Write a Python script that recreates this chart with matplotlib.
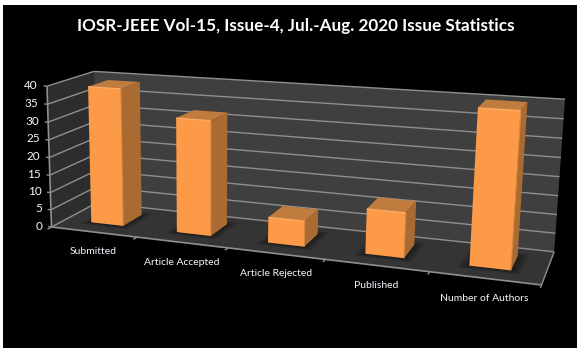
import numpy as np
import matplotlib
matplotlib.use('Agg')
import matplotlib.pyplot as plt
from matplotlib.patches import Rectangle

categorias = ['Submitted', 'Article Accepted', 'Article Rejected', 'Published', 'Number of Authors']
valores = [39, 32, 7, 12, 40]
ticks_y = [0, 5, 10, 15, 20, 25, 30, 35, 40]
titulo = 'IOSR-JEEE Vol-15, Issue-4, Jul.-Aug. 2020 Issue Statistics'

plt.rcParams['font.family'] = ['Lato', 'DejaVu Sans']

# esquinas de la caja 3D (categoria, profundidad, valor) -> pixel de la imagen
esquinas_3d = [(0, 0, 0), (5, 0, 0), (0, 1, 0), (5, 1, 0), (0, 1, 40), (5, 1, 40), (0, 0, 40)]
esquinas_px = [(54.3, 226.7), (541.3, 285.7), (94, 203), (554.7, 251),
               (96.7, 71.7), (564.7, 99.3), (44.3, 85.7)]


def calcular_camara(puntos, pixeles):
    """Matriz de proyeccion 3x4 a partir de correspondencias (DLT)."""
    filas = []
    for (x, y, z), (u, v) in zip(puntos, pixeles):
        filas.append([x, y, z, 1, 0, 0, 0, 0, -u*x, -u*y, -u*z, -u])
        filas.append([0, 0, 0, 0, x, y, z, 1, -v*x, -v*y, -v*z, -v])
    return np.linalg.svd(np.array(filas, dtype=float))[2][-1].reshape(3, 4)


camara = calcular_camara(esquinas_3d, esquinas_px)


def proyectar(x, y, z):
    u, v, w = camara @ np.array([x, y, z, 1.0])
    return u / w, v / w


def cara(ax, puntos, color, zorder=2, alpha=1.0):
    ax.fill(*zip(*[proyectar(*p) for p in puntos]), color=color, lw=0, zorder=zorder, alpha=alpha)


def linea(ax, a, b, color='#8f8f8f', lw=1.0, zorder=1.5):
    p, q = proyectar(*a), proyectar(*b)
    ax.plot([p[0], q[0]], [p[1], q[1]], color=color, lw=lw, zorder=zorder, solid_capstyle='butt')


fig = plt.figure(figsize=(5.82, 3.52), dpi=100, facecolor='white')
ax = fig.add_axes([0, 0, 1, 1])
ax.set_xlim(0, 582)
ax.set_ylim(352, 0)
ax.axis('off')
ax.add_patch(Rectangle((3, 5), 574, 343, color='black', lw=0, zorder=0))

# paredes y suelo
cara(ax, [(0, 1, 0), (5, 1, 0), (5, 1, 40), (0, 1, 40)], '#3f3f3f', 1)
cara(ax, [(0, 0, 0), (0, 1, 0), (0, 1, 40), (0, 0, 40)], '#2d2d2d', 1)
cara(ax, [(0, 0, 0), (5, 0, 0), (5, 1, 0), (0, 1, 0)], '#343434', 1)

for t in ticks_y:
    linea(ax, (0, 0, t), (0, 1, t))
    linea(ax, (0, 1, t), (5, 1, t))
    p = proyectar(0, 0, t)
    ax.text(p[0] - 9, p[1] - 1, str(t), color='#f2f8ff', fontsize=8.5, ha='right', va='center', zorder=6)
    linea(ax, (0, 0, t), (-0.04, 0, t))

linea(ax, (0, 0, 0), (0, 0, 40), lw=1.2)
linea(ax, (0, 0, 0), (5, 0, 0), lw=1.2)
linea(ax, (5, 0, 0), (5, 1, 0), lw=1.0)

for i in range(6):
    linea(ax, (i, 0, 0), (i, -0.08, 0))

x0, x1 = 0.31, 0.69
y0, y1 = 0.30, 0.74

for i, (nombre, valor) in enumerate(zip(categorias, valores)):
    a, b = i + x0, i + x1

    # sombra difusa en el suelo
    for m in (0.09, 0.06, 0.03):
        cara(ax, [(a - m, y0 - m, 0), (b + m, y0 - m, 0), (b + m, y1 + m, 0), (a - m, y1 + m, 0)],
             'black', 2, alpha=0.14)

    cara(ax, [(a, y0, valor), (b, y0, valor), (b, y1, valor), (a, y1, valor)], '#c07c3c', 3)
    cara(ax, [(b, y0, 0), (b, y1, 0), (b, y1, valor), (b, y0, valor)], '#a96b31', 3)
    cara(ax, [(a, y0, 0), (b, y0, 0), (b, y0, valor), (a, y0, valor)], '#fd9a48', 4)
    linea(ax, (a, y0, valor), (b, y0, valor), color='#ffb070', lw=0.8, zorder=5)
    linea(ax, (b, y0, 0), (b, y0, valor), color='#d98a45', lw=0.8, zorder=5)

    p = proyectar(i + 0.5, 0, 0)
    ax.text(p[0], p[1] + 20, nombre, color='#f2f8ff', fontsize=7.5, ha='center', va='center', zorder=6)

ax.text(296, 26, titulo, color='white', fontsize=12.3, fontweight='bold', ha='center', va='center', zorder=6)

fig.savefig('out.png', dpi=100, facecolor='white')
plt.close()
